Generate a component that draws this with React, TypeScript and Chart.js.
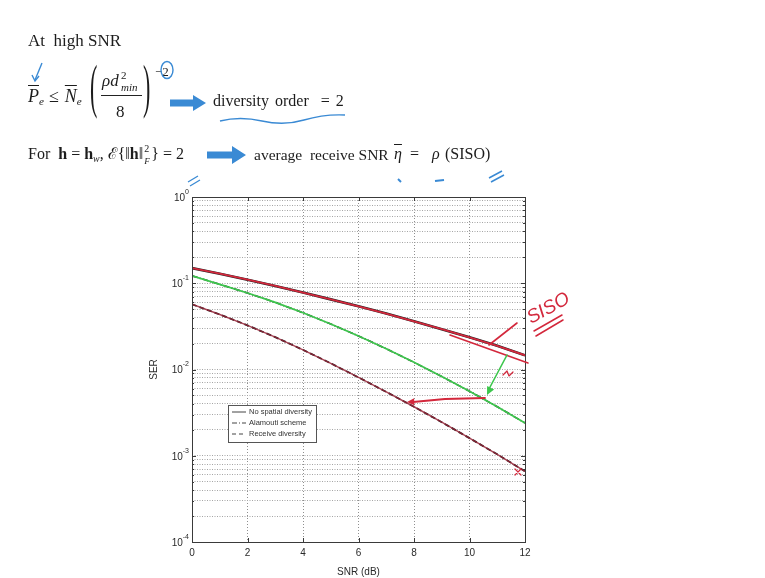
import React, { useEffect, useRef } from 'react';
import { Chart, registerables } from 'chart.js';

Chart.register(...registerables);

// ---- data ----
const snrDb = [0, 1, 2, 3, 4, 5, 6, 7, 8, 9, 10, 11, 12];
const noSpatialSER = [0.150, 0.129, 0.110, 0.093, 0.078, 0.065, 0.054, 0.0445, 0.0362, 0.0293, 0.0236, 0.0188, 0.0146];
const alamoutiSER = [0.122, 0.097, 0.077, 0.060, 0.0455, 0.0337, 0.0245, 0.0174, 0.0121, 0.0083, 0.0056, 0.0037, 0.0024];
const receiveSER = [0.057, 0.0435, 0.0325, 0.0237, 0.0169, 0.0118, 0.0081, 0.0055, 0.0037, 0.00245, 0.0016, 0.00104, 0.00066];
const seriesLabels = ['No spatial diversity', 'Alamouti scheme', 'Receive diversity'];
const xTicks = [0, 2, 4, 6, 8, 10, 12];
const yDecades = [-4, -3, -2, -1, 0];
const yMantissas = [1, 2, 3, 4, 5, 6, 7, 8, 9];

const SANS = '"Liberation Sans", Arial, sans-serif';
const SERIF = '"Liberation Serif", "Times New Roman", serif';
const BLUE = '#3a8ad4';
const PEN_RED = '#d3283c';
const PEN_GREEN = '#3cc64c';
const TEXT = '#2a2a2a';

const legendDash = [[], [5, 2, 1, 2], [4, 3]];

function arrowHead(ctx: CanvasRenderingContext2D, x1: number, y1: number, x2: number, y2: number, size: number) {
  const ang = Math.atan2(y2 - y1, x2 - x1);
  ctx.beginPath();
  ctx.moveTo(x2, y2);
  ctx.lineTo(x2 - size * Math.cos(ang - 0.45), y2 - size * Math.sin(ang - 0.45));
  ctx.lineTo(x2 - size * Math.cos(ang + 0.45), y2 - size * Math.sin(ang + 0.45));
  ctx.closePath();
  ctx.fill();
}

const decorPlugin = {
  id: 'decor',
  afterDraw(chart: any) {
    const { ctx, chartArea: a, scales } = chart;
    const xs = scales.x;
    const ys = scales.y;
    ctx.save();
    // frame
    ctx.strokeStyle = '#3a3a3a';
    ctx.lineWidth = 1;
    ctx.setLineDash([]);
    ctx.strokeRect(Math.round(a.left) + 0.5, Math.round(a.top) + 0.5, Math.round(a.right - a.left), Math.round(a.bottom - a.top));
    // inward ticks
    ctx.beginPath();
    for (const v of xTicks) {
      const px = Math.round(xs.getPixelForValue(v)) + 0.5;
      ctx.moveTo(px, a.bottom); ctx.lineTo(px, a.bottom - 4);
      ctx.moveTo(px, a.top); ctx.lineTo(px, a.top + 4);
    }
    for (const k of yDecades) {
      for (const m of yMantissas) {
        const v = m * Math.pow(10, k);
        if (v > 1) continue;
        const py = Math.round(ys.getPixelForValue(v)) + 0.5;
        const len = m === 1 ? 4 : 2;
        ctx.moveTo(a.left, py); ctx.lineTo(a.left + len, py);
        ctx.moveTo(a.right, py); ctx.lineTo(a.right - len, py);
      }
    }
    ctx.stroke();

    // y tick labels 10^k
    ctx.fillStyle = TEXT;
    ctx.textBaseline = 'middle';
    ctx.textAlign = 'right';
    for (const k of yDecades) {
      const py = ys.getPixelForValue(Math.pow(10, k));
      const exp = k === 0 ? '0' : '-' + String(-k);
      ctx.font = `7px ${SANS}`;
      const ew = ctx.measureText(exp).width;
      ctx.fillText(exp, a.left - 3, py - 5);
      ctx.font = `10px ${SANS}`;
      ctx.fillText('10', a.left - 3 - ew, py + 1);
    }

    // legend box (inside plot, lower-left)
    const lx = a.left + 36, ly = a.top + 208, lw = 88, lh = 37;
    ctx.fillStyle = '#ffffff';
    ctx.fillRect(lx, ly, lw, lh);
    ctx.strokeStyle = '#555';
    ctx.lineWidth = 1;
    ctx.strokeRect(lx + 0.5, ly + 0.5, lw, lh);
    ctx.font = `7.5px ${SANS}`;
    ctx.textAlign = 'left';
    ctx.textBaseline = 'middle';
    seriesLabels.forEach((lab, i) => {
      const ry = ly + 7 + i * 11;
      ctx.strokeStyle = '#444';
      ctx.lineWidth = 1;
      ctx.setLineDash(legendDash[i]);
      ctx.beginPath();
      ctx.moveTo(lx + 4, ry); ctx.lineTo(lx + 18, ry);
      ctx.stroke();
      ctx.setLineDash([]);
      ctx.fillStyle = '#333';
      ctx.fillText(lab, lx + 21, ry);
    });

    // handwritten pen annotations
    ctx.lineCap = 'round';
    ctx.lineJoin = 'round';
    ctx.strokeStyle = PEN_RED;
    ctx.fillStyle = PEN_RED;
    // red second stroke along SISO end
    ctx.lineWidth = 1.6;
    ctx.beginPath();
    ctx.moveTo(a.right - 75, a.top + 138); ctx.lineTo(a.right + 3, a.top + 166);
    ctx.stroke();
    // red pointer from SISO label to curve
    ctx.beginPath();
    ctx.moveTo(a.right - 8, a.top + 126); ctx.lineTo(a.right - 36, a.top + 148);
    ctx.stroke();
    // SISO handwritten label
    ctx.save();
    ctx.translate(a.right + 6, a.top + 127);
    ctx.rotate(-0.5);
    ctx.font = `italic 19px ${SANS}`;
    ctx.textAlign = 'left';
    ctx.textBaseline = 'alphabetic';
    ctx.fillText('SISO', 0, 0);
    ctx.restore();
    ctx.lineWidth = 1.5;
    ctx.beginPath();
    ctx.moveTo(a.right + 9, a.top + 134); ctx.lineTo(a.right + 37, a.top + 118);
    ctx.moveTo(a.right + 11, a.top + 139); ctx.lineTo(a.right + 38, a.top + 123);
    ctx.stroke();
    // small red scribble
    ctx.lineWidth = 1.2;
    ctx.beginPath();
    ctx.moveTo(a.right - 22, a.top + 178); ctx.lineTo(a.right - 18, a.top + 174); ctx.lineTo(a.right - 16, a.top + 179); ctx.lineTo(a.right - 12, a.top + 175);
    ctx.stroke();
    // red horizontal arrow green -> receive diversity
    ctx.lineWidth = 1.8;
    ctx.beginPath();
    ctx.moveTo(a.right - 40, a.top + 201); ctx.lineTo(a.right - 80, a.top + 202); ctx.lineTo(a.right - 112, a.top + 205);
    ctx.stroke();
    arrowHead(ctx, a.right - 90, a.top + 204, a.right - 118, a.top + 205, 8);
    // red x at the end of receive diversity
    ctx.lineWidth = 1.2;
    ctx.beginPath();
    ctx.moveTo(a.right - 10, a.top + 272); ctx.lineTo(a.right - 4, a.top + 278);
    ctx.moveTo(a.right - 4, a.top + 272); ctx.lineTo(a.right - 10, a.top + 278);
    ctx.stroke();
    // green arrow
    ctx.strokeStyle = PEN_GREEN;
    ctx.fillStyle = PEN_GREEN;
    ctx.lineWidth = 1.6;
    ctx.beginPath();
    ctx.moveTo(a.right - 18, a.top + 158); ctx.lineTo(a.right - 36, a.top + 192);
    ctx.stroke();
    arrowHead(ctx, a.right - 28, a.top + 178, a.right - 38, a.top + 198, 9);
    ctx.restore();
  },
};

function ChartBox() {
  const ref = useRef<HTMLCanvasElement | null>(null);
  useEffect(() => {
    if (!ref.current) return;
    const yTickValues: number[] = [];
    for (const k of yDecades) for (const m of yMantissas) {
      const v = m * Math.pow(10, k);
      if (v <= 1) yTickValues.push(v);
    }
    const pts = (arr: number[]) => snrDb.map((x, i) => ({ x, y: arr[i] }));
    const chart = new Chart(ref.current, {
      type: 'line',
      data: {
        datasets: [
          { label: seriesLabels[0], data: pts(noSpatialSER), borderColor: '#222', borderWidth: 2.6, pointRadius: 0, order: 3 },
          { label: seriesLabels[1], data: pts(alamoutiSER), borderColor: '#222', borderWidth: 1.6, borderDash: [6, 2, 1, 2], pointRadius: 0, order: 3 },
          { label: seriesLabels[2], data: pts(receiveSER), borderColor: '#222', borderWidth: 1.8, borderDash: [5, 3], pointRadius: 0, order: 3 },
          { label: 'pen1', data: pts(noSpatialSER), borderColor: PEN_RED, borderWidth: 1.8, pointRadius: 0, order: 1 },
          { label: 'pen2', data: pts(alamoutiSER), borderColor: PEN_GREEN, borderWidth: 1.7, pointRadius: 0, order: 1 },
          { label: 'pen3', data: pts(receiveSER), borderColor: 'rgba(150,35,55,0.85)', borderWidth: 1.5, pointRadius: 0, order: 1 },
        ],
      },
      options: {
        animation: false,
        responsive: false,
        maintainAspectRatio: false,
        layout: { padding: { left: 148, right: 240, top: 197, bottom: 0 } },
        plugins: { legend: { display: false }, tooltip: { enabled: false } },
        scales: {
          x: {
            type: 'linear',
            min: 0,
            max: 12,
            afterFit: (s: any) => { s.height = 36; },
            afterBuildTicks: (s: any) => { s.ticks = xTicks.map((v) => ({ value: v })); },
            ticks: { color: TEXT, font: { family: SANS, size: 10 }, padding: 5, maxRotation: 0, autoSkip: false },
            grid: { color: '#8f8f8f', lineWidth: 1, drawTicks: false },
            border: { display: false, dash: [1, 2] },
            title: { display: true, text: 'SNR (dB)', color: TEXT, font: { family: SANS, size: 10 }, padding: { top: 0, bottom: 0 } },
          },
          y: {
            type: 'logarithmic',
            min: 1e-4,
            max: 1,
            afterFit: (s: any) => { s.width = 44; },
            afterBuildTicks: (s: any) => { s.ticks = yTickValues.map((v) => ({ value: v })); },
            ticks: { autoSkip: false, callback: () => '' },
            grid: { color: '#a5a5a5', lineWidth: 1, drawTicks: false },
            border: { display: false, dash: [1, 1.5] },
            title: { display: true, text: 'SER', color: TEXT, font: { family: SANS, size: 10 }, padding: { top: 0, bottom: 0 } },
          },
        },
      },
      plugins: [decorPlugin],
    } as any);
    return () => chart.destroy();
  }, []);
  return <canvas ref={ref} width={765} height={578} style={{ position: 'absolute', left: 0, top: 0, width: 765, height: 578 }} />;
}

function T(props: { x: number; y: number; size: number; children: any; style?: any }) {
  // y is the baseline position
  return (
    <div style={{ position: 'absolute', left: props.x, top: props.y - Math.round(props.size * 0.86), fontSize: props.size, lineHeight: `${props.size}px`, whiteSpace: 'nowrap', ...(props.style || {}) }}>
      {props.children}
    </div>
  );
}

const ovl = { textDecoration: 'overline', fontStyle: 'italic' } as any;
const subS = { fontSize: '0.62em', verticalAlign: '-0.3em', fontStyle: 'italic' } as any;
const paren = { transform: 'scale(0.5,1.35)', transformOrigin: 'left bottom', fontWeight: 300 } as any;

function Header() {
  return (
    <div style={{ position: 'absolute', left: 0, top: 0, width: 765, height: 200, fontFamily: SERIF, color: '#1c1c1c' }}>
      <T x={28} y={47} size={17}>At&nbsp; high SNR</T>

      {/* formula line */}
      <T x={28} y={102} size={18}>
        <span style={ovl}>P</span><span style={subS}>e</span>
        <span style={{ margin: '0 6px 0 5px' }}>≤</span>
        <span style={ovl}>N</span><span style={subS}>e</span>
      </T>
      <T x={90} y={111} size={44} style={paren}>(</T>
      <T x={102} y={87} size={17}><i>ρd</i></T>
      <T x={121} y={79} size={11}>2</T>
      <T x={121} y={91} size={11}><i>min</i></T>
      <div style={{ position: 'absolute', left: 101, top: 95, width: 41, height: 1, background: '#222' }} />
      <T x={116} y={118} size={17}>8</T>
      <T x={143} y={111} size={44} style={paren}>)</T>
      <T x={155} y={76} size={13}>−2</T>
      <T x={213} y={107} size={16} style={{ wordSpacing: '2px' }}>diversity order &nbsp;= 2</T>

      {/* third line */}
      <T x={28} y={160} size={16}>
        For&nbsp;&nbsp;<b>h</b> = <b>h</b><span style={subS}>w</span>, <span>ℰ</span>{'{‖'}<b>h</b>{'‖'}
        <span style={{ display: 'inline-block', position: 'relative', width: 8, height: 10 }}>
          <span style={{ position: 'absolute', left: 1, top: -8, fontSize: 10 }}>2</span>
          <span style={{ position: 'absolute', left: 1, top: 4, fontSize: 9, fontStyle: 'italic' }}>F</span>
        </span>
        {'} = 2'}
      </T>
      <T x={254} y={160} size={15.5}>average&nbsp; receive SNR</T>
      <T x={394} y={160} size={16}><span style={ovl}>η</span></T>
      <T x={410} y={160} size={16}>=</T>
      <T x={432} y={160} size={16}><i>ρ</i></T>
      <T x={445} y={160} size={16}>(SISO)</T>

      <svg width={765} height={200} style={{ position: 'absolute', left: 0, top: 0 }}>
        {/* block arrows */}
        <path d="M170 99.5 H193 V95 L206 103 L193 111 V106.5 H170 Z" fill={BLUE} />
        <path d="M207 151.5 H232 V146 L246 155 L232 164 V158.5 H207 Z" fill={BLUE} />
        {/* circle around exponent */}
        <ellipse cx={167} cy={70} rx={6} ry={8.5} fill="none" stroke={BLUE} strokeWidth={1.4} />
        {/* tick above P */}
        <path d="M42 63 L35 80" stroke={BLUE} strokeWidth={1.4} fill="none" />
        <path d="M32 75 L35 81 L39 76" stroke={BLUE} strokeWidth={1.4} fill="none" />
        {/* wavy underline */}
        <path d="M220 121 Q240 116 262 121 T304 120 T345 115" stroke={BLUE} strokeWidth={1.4} fill="none" />
        {/* marks on line 3 */}
        <path d="M188 182 L198 176 M190 186 L200 180" stroke={BLUE} strokeWidth={1.3} fill="none" />
        <path d="M398 179 L401 182" stroke={BLUE} strokeWidth={2} fill="none" />
        <path d="M435 181 L444 180" stroke={BLUE} strokeWidth={2.2} fill="none" />
        <path d="M489 178 L502 171 M491 182 L504 175" stroke={BLUE} strokeWidth={1.5} fill="none" />
      </svg>
    </div>
  );
}

export default function App() {
  return (
    <div style={{ position: 'absolute', left: 0, top: 0, width: 765, height: 578, background: '#ffffff', overflow: 'hidden' }}>
      <ChartBox />
      <Header />
    </div>
  );
}
